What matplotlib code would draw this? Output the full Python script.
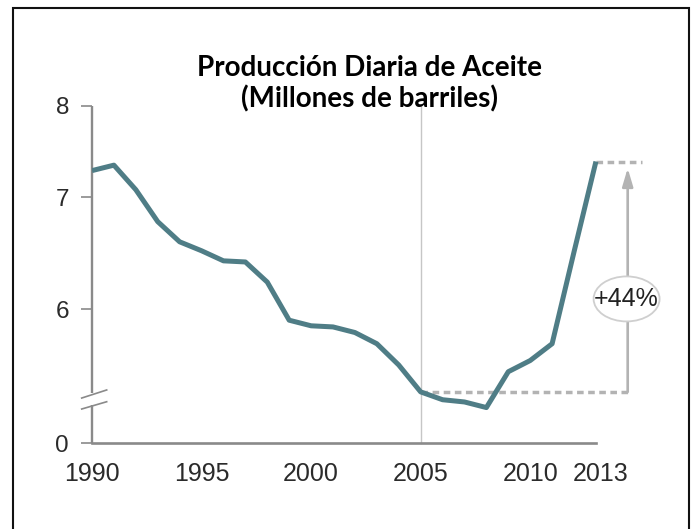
import numpy as np
import matplotlib
matplotlib.use('Agg')
import matplotlib.pyplot as plt
from matplotlib import patches, transforms

# data (millions of barrels per day)
years = list(range(1990, 2014))
produccion = [7.29, 7.35, 7.08, 6.78, 6.60, 6.52, 6.43, 6.42, 6.24, 5.90,
              5.85, 5.84, 5.79, 5.69, 5.50, 5.26, 5.19, 5.17, 5.12, 5.44,
              5.54, 5.69, 6.51, 7.39]
y_ticks = [0, 6, 7, 8]
x_ticks = [1990, 1995, 2000, 2005, 2010, 2013]
titulo = 'Producción Diaria de Aceite'
subtitulo = '(Millones de barriles)'
etiqueta = '+44%'

# the original graphic uses a broken, uneven vertical axis
scale_vals = [0, 5, 6, 7, 8]
scale_pos = [0, 22, 134, 246, 337]


def forward(v):
    return np.interp(v, scale_vals, scale_pos)


def inverse(p):
    return np.interp(p, scale_pos, scale_vals)


W, H = 698, 529
px_year = 21.91
gray = '#8a8a8a'
dash_gray = '#b3b3b3'
teal = '#4f7d86'

fig = plt.figure(figsize=(W / 100, H / 100), dpi=100)
ax = fig.add_axes([92 / W, 86 / H, 26 * px_year / W, 337 / H])
ax.set_yscale('function', functions=(forward, inverse))
ax.set_xlim(1990, 2016)
ax.set_ylim(0, 8)

for side in ['top', 'right', 'left']:
    ax.spines[side].set_visible(False)
ax.spines['bottom'].set_color(gray)
ax.spines['bottom'].set_linewidth(1.9)
ax.spines['bottom'].set_bounds(1990, 2013)

# y axis drawn in two pieces with a break
ax.plot([1990, 1990], [5.25, 8], color=gray, lw=1.7, clip_on=False,
        solid_capstyle='butt', zorder=2)
ax.plot([1990, 1990], [0, 5.143], color=gray, lw=1.7, clip_on=False,
        solid_capstyle='butt', zorder=2)
ax.plot([1989.53, 1990.67], [5.205, 5.277], color=gray, lw=1.2,
        clip_on=False, zorder=2)
ax.plot([1989.53, 1990.67], [5.107, 5.172], color=gray, lw=1.2,
        clip_on=False, zorder=2)

ax.set_yticks(y_ticks, labels=[str(t) for t in y_ticks],
              family=['Liberation Sans', 'DejaVu Sans'])
ax.set_xticks(x_ticks, labels=[str(t) for t in x_ticks],
              family=['Liberation Sans', 'DejaVu Sans'])
ax.tick_params(axis='y', length=8, width=1.2, color=gray, pad=8.6,
               labelsize=17.5, labelcolor='#2b2b2b')
ax.tick_params(axis='x', length=0, pad=13.5, labelsize=18, labelcolor='#2b2b2b')
ax.minorticks_off()
# the last year label sits a little to the right in the original
last = ax.get_xticklabels()[-1]
last.set_transform(last.get_transform()
                   + transforms.ScaledTranslation(0.05, 0, fig.dpi_scale_trans))

# reference line at 2005
ax.plot([2005, 2005], [0, 8], color='#c6c6c6', lw=1.0, zorder=1,
        clip_on=False)

ax.plot(years, produccion, color=teal, lw=3.6, zorder=4,
        solid_joinstyle='round', solid_capstyle='butt')

v05 = produccion[years.index(2005)]
v13 = produccion[-1]
x_arrow = 2014.45

ax.plot([2005, x_arrow], [v05, v05], color=dash_gray, lw=2.5,
        dashes=(1.9, 1.3), dash_capstyle='butt', clip_on=False, zorder=3)
ax.plot([2013, 2015.08], [v13, v13], color=dash_gray, lw=2.5,
        dashes=(1.9, 1.3), dash_capstyle='butt', clip_on=False, zorder=3)
ax.annotate('', xy=(x_arrow, v13), xytext=(x_arrow, v05),
            arrowprops=dict(arrowstyle='-|>,head_length=0.54,head_width=0.16',
                            color=dash_gray, lw=1.9, shrinkA=0, shrinkB=4.8,
                            mutation_scale=20),
            annotation_clip=False, zorder=3)

# ellipse with the percentage
lab_x, lab_y = 2014.4, 6.09
ell = patches.Ellipse((0, 0), 0.66, 0.45,
                      transform=fig.dpi_scale_trans
                      + transforms.ScaledTranslation(lab_x, lab_y, ax.transData),
                      facecolor='white', edgecolor='#cfcfcf', lw=1.3,
                      zorder=5, clip_on=False)
ax.add_artist(ell)
ax.text(lab_x, lab_y, etiqueta, ha='center', va='center', fontsize=18,
        family=['Liberation Sans', 'DejaVu Sans'], color='#222222',
        zorder=6, clip_on=False)

fig.text(369 / W, 1 - 76 / H, titulo, ha='center', va='baseline',
         fontsize=20, fontweight='bold', family=['Lato', 'DejaVu Sans'])
fig.text(369 / W, 1 - 107 / H, subtitulo, ha='center', va='baseline',
         fontsize=20, fontweight='bold', family=['Lato', 'DejaVu Sans'])

# frame around the whole picture
fig.add_artist(patches.Rectangle((13 / W, -0.05), (689 - 13) / W,
                                 1.05 - 8 / H, transform=fig.transFigure,
                                 fill=False, edgecolor='#111111', lw=1.5))

fig.savefig('out.png', dpi=100)
